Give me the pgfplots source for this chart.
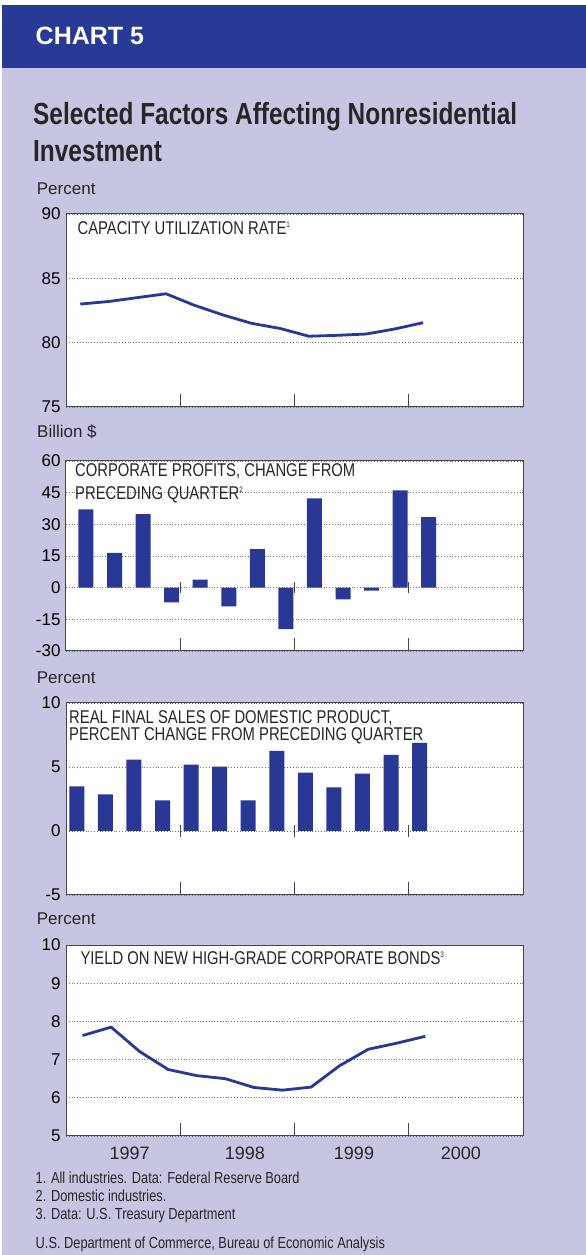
\documentclass[border=0pt]{standalone}
\usepackage{fontspec}
\setmainfont{Liberation Sans}
\newfontfamily\narrow[FakeStretch=0.8]{Liberation Sans}
\usepackage{pgfplots}
\pgfplotsset{compat=1.18}

\definecolor{band}{RGB}{40,58,150}
\definecolor{navy}{RGB}{40,56,148}
\definecolor{lav}{RGB}{198,198,227}
\definecolor{boxc}{RGB}{70,70,70}

\newcommand{\fnote}[1]{\raisebox{7pt}{\fontsize{8}{8}\selectfont #1}}

\tikzset{zerotick/.style={draw=boxc, line width=0.9pt}}
\pgfplotsset{
  panel/.style={
    scale only axis, width=457pt, anchor=south west,
    xmin=0, xmax=16,
    axis background/.style={fill=white},
    axis line style={draw=boxc, line width=1pt},
    xtick={4,8,12}, xticklabels={}, xtick pos=left,
    xtick style={draw=boxc, line width=0.9pt},
    major tick length=13pt, tick align=inside,
    ytick style={draw=none},
    ymajorgrids,
    major grid style={draw=black!55, line width=0.6pt, dash pattern=on 0.6pt off 2.2pt},
    yticklabel style={font=\fontsize{17}{17}\selectfont, xshift=-2pt},
  },
}

\begin{document}
\begin{tikzpicture}[x=1pt,y=1pt]
% background
\fill[white] (0,0) rectangle (586,1255);
\fill[lav] (2,0) rectangle (586,1187);
\fill[band] (2,1187) rectangle (586,1250);
\useasboundingbox (0,0) rectangle (586,1255);

\node[anchor=base west, inner sep=0, text=white] at (35.5,1210)
  {\fontsize{25}{25}\selectfont\bfseries CHART 5};
\node[anchor=base west, inner sep=0, text=black!85] at (33,1130)
  {\fontsize{30.5}{30.5}\narrow\bfseries Selected Factors Affecting Nonresidential};
\node[anchor=base west, inner sep=0, text=black!85] at (33,1093.3)
  {\fontsize{30.5}{30.5}\narrow\bfseries Investment};

% panel 1: capacity utilization
\node[anchor=base west, inner sep=0, text=black!85] at (36.7,1060) {\fontsize{17}{17}\selectfont Percent};
\begin{axis}[panel, at={(66pt,848pt)}, height=193pt,
  ymin=75, ymax=90, ytick={75,80,85,90}, yticklabels={75,80,85,90}]
\addplot[navy, line width=2.8pt, line join=round, mark=none] coordinates {
  (0.5,83.0) (1.5,83.2) (2.5,83.5) (3.5,83.8) (4.5,82.9) (5.5,82.15)
  (6.5,81.5) (7.5,81.1) (8.5,80.5) (9.5,80.57) (10.5,80.67) (11.5,81.06) (12.5,81.55)
};
\end{axis}
\node[anchor=base west, inner sep=0, text=black!85] at (77.4,1020)
  {\fontsize{18.5}{18.5}\narrow CAPACITY UTILIZATION RATE\fnote{1}};

% panel 2: corporate profits
\node[anchor=base west, inner sep=0, text=black!85] at (37,817.7) {\fontsize{17}{17}\selectfont Billion \$};
\begin{axis}[panel, at={(66pt,604pt)}, height=190pt,
  ymin=-30, ymax=60, ytick={-30,-15,0,15,30,45,60}, yticklabels={-30,-15,0,15,30,45,60}]
\addplot[ybar, bar width=15pt, bar shift=0pt, fill=navy, draw=none] coordinates {
  (0.7,37.1) (1.7,16.5) (2.7,34.8) (3.7,-7.0) (4.7,3.8) (5.7,-8.9) (6.7,18.3)
  (7.7,-19.7) (8.7,42.3) (9.7,-5.6) (10.7,-1.4) (11.7,46.1) (12.7,33.4)
};
\draw[zerotick] (axis cs:4,0) ++(0pt,-5.5pt) -- ++(0pt,11pt);
\draw[zerotick] (axis cs:8,0) ++(0pt,-5.5pt) -- ++(0pt,11pt);
\draw[zerotick] (axis cs:12,0) ++(0pt,-5.5pt) -- ++(0pt,11pt);
\end{axis}
\node[anchor=base west, inner sep=0, text=black!85] at (75,778.3)
  {\fontsize{18.5}{18.5}\narrow CORPORATE PROFITS, CHANGE FROM};
\node[anchor=base west, inner sep=0, text=black!85] at (75,755.7)
  {\fontsize{18.5}{18.5}\narrow PRECEDING QUARTER\fnote{2}};

% panel 3: real final sales
\node[anchor=base west, inner sep=0, text=black!85] at (36.7,571.7) {\fontsize{17}{17}\selectfont Percent};
\begin{axis}[panel, at={(66pt,360pt)}, height=192pt,
  ymin=-5, ymax=10, ytick={-5,0,5,10}, yticklabels={-5,0,5,10}]
\addplot[ybar, bar width=15pt, bar shift=0pt, fill=navy, draw=none] coordinates {
  (0.38,3.48) (1.38,2.86) (2.38,5.57) (3.38,2.40) (4.38,5.18) (5.38,5.03) (6.38,2.40)
  (7.38,6.26) (8.38,4.56) (9.38,3.40) (10.38,4.48) (11.38,5.95) (12.38,6.88)
};
\draw[zerotick] (axis cs:4,0) ++(0pt,-6pt) -- ++(0pt,12pt);
\draw[zerotick] (axis cs:8,0) ++(0pt,-6pt) -- ++(0pt,12pt);
\draw[zerotick] (axis cs:12,0) ++(0pt,-6pt) -- ++(0pt,12pt);
\end{axis}
\node[anchor=base west, inner sep=0, text=black!85] at (69,531.7)
  {\fontsize{18.5}{18.5}\narrow REAL FINAL SALES OF DOMESTIC PRODUCT,};
\node[anchor=base west, inner sep=0, text=black!85] at (69,514)
  {\fontsize{18.5}{18.5}\narrow PERCENT CHANGE FROM PRECEDING QUARTER};

% panel 4: bond yield
\node[anchor=base west, inner sep=0, text=black!85] at (36.7,330) {\fontsize{17}{17}\selectfont Percent};
\begin{axis}[panel, at={(66pt,119pt)}, height=191pt,
  ymin=5, ymax=10, ytick={5,6,7,8,9,10}, yticklabels={5,6,7,8,9,10}]
\addplot[navy, line width=2.8pt, line join=round, mark=none] coordinates {
  (0.58,7.63) (1.58,7.85) (2.58,7.21) (3.58,6.74) (4.58,6.58) (5.58,6.50) (6.58,6.27)
  (7.58,6.20) (8.58,6.28) (9.58,6.84) (10.58,7.27) (11.58,7.43) (12.58,7.61)
};
\end{axis}
\node[anchor=base west, inner sep=0, text=black!85] at (80.3,290)
  {\fontsize{18.5}{18.5}\narrow YIELD ON NEW HIGH-GRADE CORPORATE BONDS\fnote{3}};

% year labels
\node[anchor=base, inner sep=0, text=black!85] at (129.7,95) {\fontsize{18}{18}\selectfont 1997};
\node[anchor=base, inner sep=0, text=black!85] at (244.8,95) {\fontsize{18}{18}\selectfont 1998};
\node[anchor=base, inner sep=0, text=black!85] at (354,95) {\fontsize{18}{18}\selectfont 1999};
\node[anchor=base, inner sep=0, text=black!85] at (460.8,95) {\fontsize{18}{18}\selectfont 2000};

% footnotes
\node[anchor=base west, inner sep=0, text=black!85] at (35.5,71.7)
  {\fontsize{16}{16}\narrow 1. All industries. Data: Federal Reserve Board};
\node[anchor=base west, inner sep=0, text=black!85] at (35.5,53.3)
  {\fontsize{16}{16}\narrow 2. Domestic industries.};
\node[anchor=base west, inner sep=0, text=black!85] at (35.5,35.7)
  {\fontsize{16}{16}\narrow 3. Data: U.S. Treasury Department};
\node[anchor=base west, inner sep=0, text=black!85] at (35.5,6.7)
  {\fontsize{16}{16}\narrow U.S. Department of Commerce, Bureau of Economic Analysis};
\end{tikzpicture}
\end{document}
